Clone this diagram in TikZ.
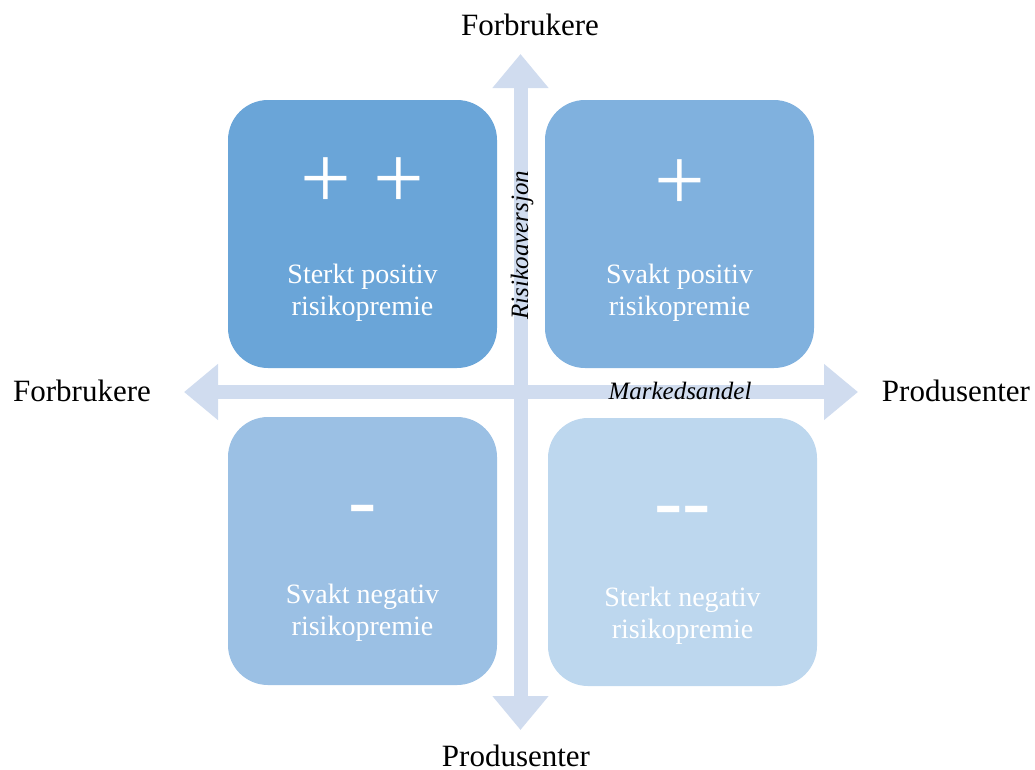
\documentclass[tikz,border=0pt]{standalone}
\usepackage{fontspec}
\setmainfont{Liberation Serif}
\usetikzlibrary{arrows.meta}
\definecolor{cTL}{HTML}{6AA5D8}
\definecolor{cTR}{HTML}{80B1DE}
\definecolor{cBL}{HTML}{9BC0E4}
\definecolor{cBR}{HTML}{BDD7EE}
\definecolor{cAx}{HTML}{D0DCEF}
\tikzset{
  quad/.style={fill=#1, draw=none, rounded corners=40pt, minimum width=269pt, minimum height=268pt, inner sep=0pt},
  sign/.style={text=white, inner sep=0pt, font=\fontsize{90}{90}\selectfont},
  dashsign/.style={text=white, inner sep=0pt, anchor=base, font=\fontsize{85}{85}\selectfont},
  qtext/.style={text=white, inner sep=0pt, align=center, font=\fontsize{28}{32}\selectfont},
  axlabel/.style={inner sep=0pt, font=\fontsize{31}{36}\selectfont},
  axname/.style={inner sep=0pt, font=\fontsize{25}{30}\selectfont\itshape},
  axis/.style={draw=cAx, line width=14pt, {Triangle[length=34pt 0 0, width=54pt 0 0]}-{Triangle[length=34pt 0 0, width=54pt 0 0]}}
}
\begin{document}
\begin{tikzpicture}[x=1pt, y=-1pt]
\useasboundingbox (0,0) rectangle (1035,769);
% quadrants
\node[quad=cTL] (tl) at (362.5,234) {};
\node[quad=cTR] (tr) at (679.5,234) {};
\node[quad=cBL] (bl) at (362.5,551) {};
\node[quad=cBR] (br) at (682.5,552) {};
% axes
\coordinate (vtop) at (520.5,54);
\coordinate (vbot) at (520.5,730);
\coordinate (hleft) at (184,392);
\coordinate (hright) at (858,392);
\draw[axis] (vbot) -- (vtop);
\draw[axis] (hleft) -- (hright);
% signs
\node[sign] (stl) at (362.5,183) {+ +};
\node[sign] (str) at (680,185) {+};
\node[dashsign] (sbl) at (362.5,528.5) {-};
\node[dashsign] (sbr) at (682.5,529) {-\kern0pt-};
% quadrant texts
\node[qtext] (ttl) at (362.5,293) {Sterkt positiv\\risikopremie};
\node[qtext] (ttr) at (679.5,293) {Svakt positiv\\risikopremie};
\node[qtext] (tbl) at (362.5,613) {Svakt negativ\\risikopremie};
\node[qtext] (tbr) at (682.5,616) {Sterkt negativ\\risikopremie};
% axis names
\node[axname, rotate=90] (ra) at (522,245) {Risikoaversjon};
\node[axname] (ms) at (680,391) {Markedsandel};
% axis end labels
\node[axlabel] (ltop) at (530,25) {Forbrukere};
\node[axlabel] (lbot) at (516,756) {Produsenter};
\node[axlabel] (lleft) at (82,391) {Forbrukere};
\node[axlabel] (lright) at (956,391) {Produsenter};
\end{tikzpicture}
\end{document}
